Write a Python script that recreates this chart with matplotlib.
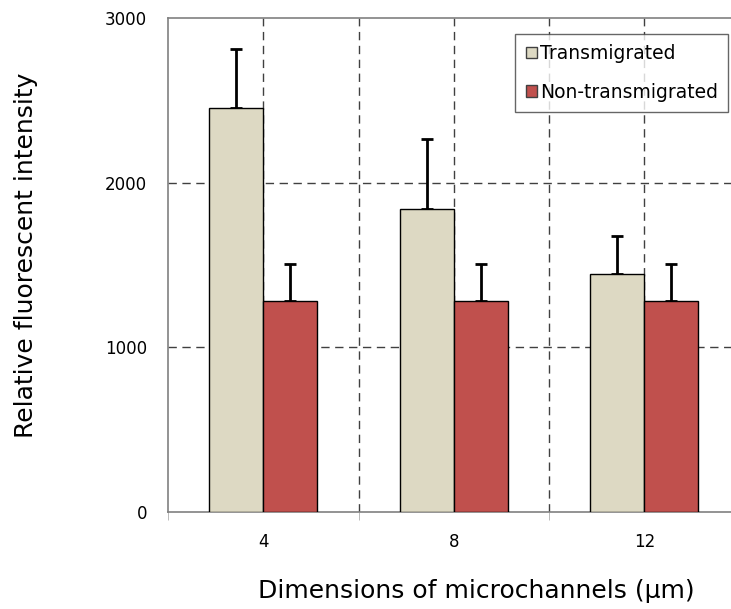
import numpy as np
import matplotlib.pyplot as plt

categories = ['4', '8', '12']
transmigrated = [2455, 1840, 1445]
transmigrated_err = [355, 425, 230]
non_transmigrated = [1280, 1280, 1280]
non_transmigrated_err = [225, 225, 225]

fig = plt.figure(figsize=(7.31, 6.09), dpi=100)
ax = fig.add_axes([168 / 731, 97 / 609, 563 / 731, 494 / 609])

x = np.arange(len(categories))
w = 0.284

ax.bar(x - w / 2, transmigrated, w, color='#DDD9C3', edgecolor='black',
       linewidth=1.0, label='Transmigrated', zorder=3)
ax.bar(x + w / 2, non_transmigrated, w, color='#C0504D', edgecolor='black',
       linewidth=1.0, label='Non-transmigrated', zorder=3)
ax.errorbar(x - w / 2, transmigrated, yerr=[np.zeros(3), transmigrated_err],
            fmt='none', ecolor='black', elinewidth=2, capsize=4, capthick=2, zorder=2)
ax.errorbar(x + w / 2, non_transmigrated, yerr=[np.zeros(3), non_transmigrated_err],
            fmt='none', ecolor='black', elinewidth=2, capsize=4, capthick=2, zorder=2)

ax.set_yticks([0, 1000, 2000, 3000])
ax.set_xticks(x)
ax.set_xticklabels(categories)
ax.set_xticks([-0.5, 0.5, 1.5], minor=True)

# dashed grid: horizontal at 1000/2000, vertical at centres and boundaries
for yv in [1000, 2000]:
    ax.axhline(yv, color='#404040', linestyle=(0, (6, 4)), linewidth=1.0, zorder=1)
for xv in np.arange(0, 2.1, 0.5):
    ax.axvline(xv, color='#404040', linestyle=(0, (6, 4)), linewidth=1.0, zorder=1)

ax.set_xlim(-0.5, -0.5 + 563 / 190.5)
ax.set_ylim(0, 3000)

ax.tick_params(axis='y', length=0, pad=15, labelsize=12)
ax.tick_params(axis='x', length=0, pad=15, labelsize=12)
ax.tick_params(axis='x', which='minor', length=6, color='#B0B0B0', direction='out')

for s in ['left', 'bottom', 'top']:
    ax.spines[s].set_color('#808080')
    ax.spines[s].set_linewidth(1.2)
ax.spines['right'].set_visible(False)

fig.text(476 / 731, 1 - 591 / 609, 'Dimensions of microchannels (µm)',
         fontsize=18, ha='center', va='center')
fig.text(26 / 731, 1 - 255 / 609, 'Relative fluorescent intensity',
         fontsize=18, ha='center', va='center', rotation=90)

leg = ax.legend(loc='upper right', bbox_to_anchor=(0.995, 0.968), fontsize=13.5,
                frameon=True, fancybox=False, edgecolor='#404040',
                handlelength=0.6, handleheight=0.6, handletextpad=0.15,
                labelspacing=1.05, borderpad=0.55, borderaxespad=0)
leg.get_frame().set_linewidth(1.0)
for h in leg.legend_handles:
    h.set_linewidth(1.0)
    h.set_edgecolor('#404040')

fig.savefig('out.png', dpi=100)
